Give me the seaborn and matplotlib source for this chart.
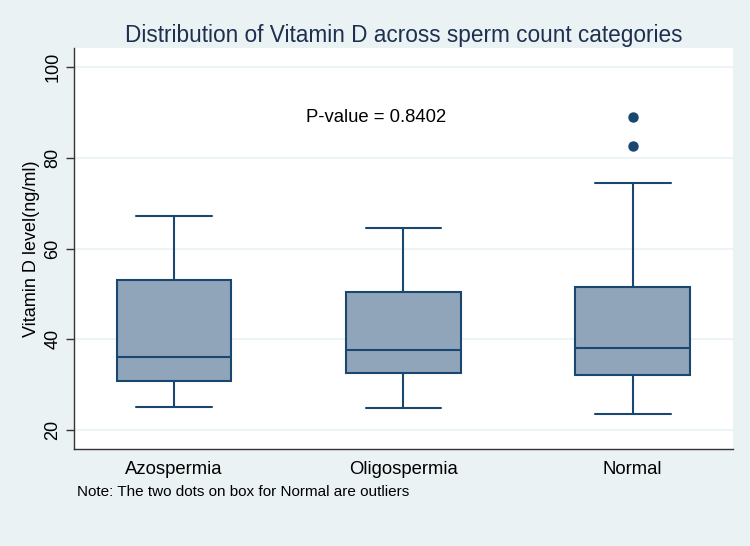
import pandas as pd
import numpy as np
import matplotlib
matplotlib.use("Agg")
import matplotlib.pyplot as plt
import seaborn as sns

# values (min, q1, median, q3, max + outliers / fillers)
categories = ["Azospermia", "Oligospermia", "Normal"]
azo_vals = [25.1, 30.8, 36.1, 53.0, 67.1]
oligo_vals = [24.8, 32.6, 37.6, 50.4, 64.5]
normal_vals = [23.5, 28.0, 30.5, 32.1, 34.0, 36.5, 38.1, 42.0, 47.0, 51.5, 74.4, 82.6, 88.9]
yticks = [20, 40, 60, 80, 100]
p_text = "P-value = 0.8402"

bg = "#eaf2f3"
navy = "#1a476f"
fill = "#90a5ba"

sns.set_theme(style="white")
plt.rcParams["font.family"] = ["Liberation Sans", "DejaVu Sans"]
plt.rcParams["text.color"] = "black"
plt.rcParams["axes.labelcolor"] = "black"
plt.rcParams["xtick.color"] = "black"
plt.rcParams["ytick.color"] = "black"

df = pd.DataFrame({
    "group": ["Azospermia"] * len(azo_vals) + ["Oligospermia"] * len(oligo_vals)
             + ["Normal"] * len(normal_vals),
    "vitd": azo_vals + oligo_vals + normal_vals,
})

fig = plt.figure(figsize=(7.5, 5.46), dpi=100, facecolor=bg)
ax = fig.add_axes([0.0987, 0.1777, 0.8783, 0.7343])
ax.set_facecolor("white")

sns.boxplot(data=df, x="group", y="vitd", order=categories, ax=ax,
            color=fill, linecolor=navy, saturation=1, width=0.5, linewidth=1.5,
            flierprops=dict(marker="o", markerfacecolor=navy,
                            markeredgecolor=navy, markersize=6.5))

# wider caps like Stata
for ln in ax.lines:
    xd = np.asarray(ln.get_xdata(), dtype=float)
    yd = np.asarray(ln.get_ydata(), dtype=float)
    if len(xd) == 2 and yd[0] == yd[1]:
        span = abs(xd[1] - xd[0])
        if 0 < span < 0.45:
            c = xd.mean()
            ln.set_xdata([c - 0.165, c + 0.165])
    if ln.get_marker() == "o":
        ln.set_markerfacecolor(navy)
        ln.set_markeredgecolor(navy)

ax.set_xlim(-0.436, 2.436)
ax.set_ylim(15.8, 104.2)
ax.set_yticks(yticks)
ax.set_yticklabels([str(t) for t in yticks], rotation=90, va="center", fontsize=13)
ax.yaxis.grid(True, color=bg, linewidth=1.2)
ax.set_axisbelow(True)
ax.tick_params(axis="y", left=True, length=6, width=1, color="#333333", pad=3)
ax.tick_params(axis="x", bottom=False, labelsize=13.3, pad=3)
for side in ["top", "right"]:
    ax.spines[side].set_visible(False)
for side in ["left", "bottom"]:
    ax.spines[side].set_color("#333333")
    ax.spines[side].set_linewidth(1)

ax.set_xlabel("")
ax.set_ylabel("Vitamin D level(ng/ml)", fontsize=13)
ax.yaxis.set_label_coords(-0.052, 0.5)
ax.set_title("Distribution of Vitamin D across sperm count categories",
             fontsize=16.3, color="#1e3050", pad=4)
ax.text(0.88, 88.9, p_text, ha="center", va="center", fontsize=13.3)
fig.text(77 / 750, 1 - 492 / 546, "Note: The two dots on box for Normal are outliers",
         ha="left", va="center", fontsize=11)

fig.savefig("out.png", dpi=100, facecolor=bg)
